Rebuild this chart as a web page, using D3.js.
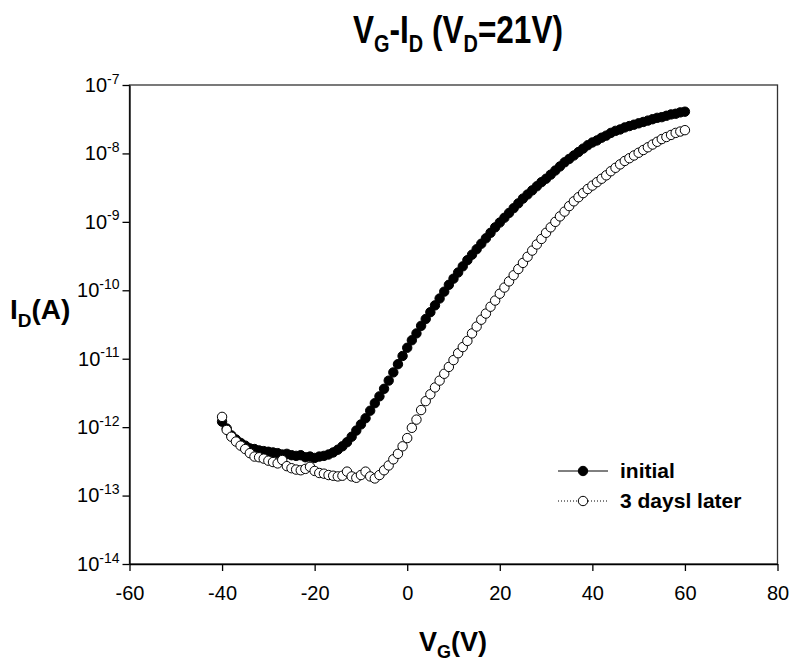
<!DOCTYPE html>
<html>
<head>
<meta charset="utf-8">
<script src="https://cdn.jsdelivr.net/npm/d3@7"></script>
<style>
  body { margin: 0; background: #fff; }
  text { font-family: "Liberation Sans", Arial, sans-serif; fill: #000; }
</style>
</head>
<body>
<div id="chart"></div>
<script>
// gate voltage sweep (V)
var vg = [
  -40,-39,-38,-37,-36,-35,-34,-33,-32,-31,
  -30,-29,-28,-27,-26,-25,-24,-23,-22,-21,
  -20,-19,-18,-17,-16,-15,-14,-13,-12,-11,
  -10,-9,-8,-7,-6,-5,-4,-3,-2,-1,
  0,1,2,3,4,5,6,7,8,9,
  10,11,12,13,14,15,16,17,18,19,
  20,21,22,23,24,25,26,27,28,29,
  30,31,32,33,34,35,36,37,38,39,
  40,41,42,43,44,45,46,47,48,49,
  50,51,52,53,54,55,56,57,58,59,
  60
];

// log10 of drain current (A)
var initialLog = [
  -11.92,-12.02,-12.12,-12.18,-12.23,-12.27,-12.31,-12.32,-12.34,-12.35,
  -12.36,-12.37,-12.38,-12.40,-12.39,-12.41,-12.42,-12.41,-12.44,-12.43,
  -12.45,-12.43,-12.42,-12.40,-12.37,-12.33,-12.28,-12.22,-12.14,-12.05,
  -11.96,-11.87,-11.76,-11.65,-11.55,-11.44,-11.32,-11.20,-11.08,-10.96,
  -10.84,-10.73,-10.63,-10.52,-10.42,-10.32,-10.22,-10.12,-10.02,-9.92,
  -9.83,-9.74,-9.65,-9.56,-9.48,-9.40,-9.32,-9.24,-9.16,-9.08,
  -9.01,-8.94,-8.87,-8.80,-8.73,-8.66,-8.60,-8.54,-8.48,-8.42,
  -8.37,-8.31,-8.25,-8.19,-8.13,-8.08,-8.03,-7.98,-7.93,-7.88,
  -7.84,-7.81,-7.77,-7.74,-7.70,-7.67,-7.65,-7.62,-7.60,-7.58,
  -7.56,-7.54,-7.52,-7.50,-7.48,-7.47,-7.45,-7.43,-7.42,-7.40,
  -7.39
];

var laterLog = [
  -11.85,-12.04,-12.14,-12.21,-12.27,-12.32,-12.38,-12.43,-12.44,-12.46,
  -12.49,-12.51,-12.53,-12.48,-12.57,-12.60,-12.62,-12.63,-12.61,-12.58,
  -12.64,-12.67,-12.68,-12.70,-12.71,-12.72,-12.71,-12.65,-12.72,-12.74,
  -12.70,-12.65,-12.72,-12.75,-12.70,-12.63,-12.56,-12.47,-12.39,-12.28,
  -12.16,-12.01,-11.89,-11.75,-11.62,-11.52,-11.42,-11.32,-11.22,-11.12,
  -11.02,-10.92,-10.83,-10.74,-10.63,-10.53,-10.43,-10.34,-10.24,-10.15,
  -10.05,-9.96,-9.87,-9.78,-9.69,-9.60,-9.51,-9.42,-9.33,-9.25,
  -9.16,-9.08,-9.00,-8.92,-8.85,-8.77,-8.70,-8.64,-8.58,-8.52,
  -8.47,-8.42,-8.37,-8.32,-8.26,-8.21,-8.16,-8.11,-8.07,-8.03,
  -7.99,-7.95,-7.91,-7.87,-7.83,-7.79,-7.76,-7.73,-7.70,-7.68,
  -7.66
];

var xTicks = [-60, -40, -20, 0, 20, 40, 60, 80];
var yExps = [-14, -13, -12, -11, -10, -9, -8, -7];
var seriesNames = ["initial", "3 daysl later"];

var width = 792, height = 668;
var plotLeft = 129.5, plotRight = 777.5, plotTop = 85, plotBottom = 564;
var markerR = 4.7;

var svg = d3.select("#chart")
  .append("svg")
  .attr("width", width)
  .attr("height", height);

var x = d3.scaleLinear().domain([-60, 80]).range([plotLeft, plotRight]);
var y = d3.scaleLog().domain([1e-14, 1e-7]).range([plotBottom, plotTop]);

// frame
svg.append("rect")
  .attr("x", plotLeft).attr("y", plotTop)
  .attr("width", plotRight - plotLeft).attr("height", plotBottom - plotTop)
  .attr("fill", "none").attr("stroke", "#333").attr("stroke-width", 1.3);

// x axis
var gx = svg.append("g")
  .attr("transform", "translate(0," + plotBottom + ")")
  .call(d3.axisBottom(x).tickValues(xTicks).tickSize(7).tickSizeOuter(0).tickPadding(15)
    .tickFormat(function (d) { return String(d); }));
gx.selectAll("text").attr("font-size", 20).attr("font-family", "Liberation Sans, Arial, sans-serif");

// y axis
var gy = svg.append("g")
  .attr("transform", "translate(" + plotLeft + ",0)")
  .call(d3.axisLeft(y).tickValues(yExps.map(function (e) { return Math.pow(10, e); }))
    .tickSize(7).tickSizeOuter(0).tickPadding(3));
gy.selectAll("text")
  .attr("font-size", 20)
  .attr("font-family", "Liberation Sans, Arial, sans-serif")
  .each(function (d, i) {
    var t = d3.select(this).text(null);
    t.append("tspan").text("10");
    t.append("tspan").attr("font-size", 14).attr("dy", "-0.6em").text(String(yExps[i]));
  });

svg.selectAll(".domain, .tick line").attr("stroke", "#000").attr("stroke-width", 1.3);

// series
var initialData = vg.map(function (v, i) { return { v: v, i: Math.pow(10, initialLog[i]) }; });
var laterData = vg.map(function (v, i) { return { v: v, i: Math.pow(10, laterLog[i]) }; });

var line = d3.line()
  .x(function (d) { return x(d.v); })
  .y(function (d) { return y(d.i); });

svg.append("path").datum(initialData)
  .attr("d", line).attr("fill", "none").attr("stroke", "#000").attr("stroke-width", 1);
svg.selectAll(".initial")
  .data(initialData)
  .enter().append("circle")
  .attr("class", "initial")
  .attr("cx", function (d) { return x(d.v); })
  .attr("cy", function (d) { return y(d.i); })
  .attr("r", markerR)
  .attr("fill", "#000").attr("stroke", "#000").attr("stroke-width", 1);

svg.append("path").datum(laterData)
  .attr("d", line).attr("fill", "none").attr("stroke", "#000")
  .attr("stroke-width", 1).attr("stroke-dasharray", "1,2");
svg.selectAll(".later")
  .data(laterData)
  .enter().append("circle")
  .attr("class", "later")
  .attr("cx", function (d) { return x(d.v); })
  .attr("cy", function (d) { return y(d.i); })
  .attr("r", markerR)
  .attr("fill", "#fff").attr("stroke", "#000").attr("stroke-width", 1);

// legend
var legend = svg.append("g").attr("transform", "translate(558,471)");
seriesNames.forEach(function (name, i) {
  var g = legend.append("g").attr("transform", "translate(0," + (i * 30) + ")");
  g.append("line").attr("x1", 0).attr("x2", 50).attr("y1", 0).attr("y2", 0)
    .attr("stroke", "#000").attr("stroke-width", 1)
    .attr("stroke-dasharray", i === 0 ? null : "1,2");
  g.append("circle").attr("cx", 25).attr("cy", 0).attr("r", markerR)
    .attr("fill", i === 0 ? "#000" : "#fff").attr("stroke", "#000");
  g.append("text").attr("x", 62).attr("y", 7)
    .attr("font-size", 21).attr("font-weight", "bold").text(name);
});

// title (condensed bold)
var title = svg.append("text")
  .attr("transform", "translate(458,43) scale(0.83,1)")
  .attr("text-anchor", "middle")
  .attr("font-size", 38).attr("font-weight", "bold");
title.append("tspan").text("V");
title.append("tspan").attr("font-size", 24).attr("dy", 9).text("G");
title.append("tspan").attr("dy", -9).text("-I");
title.append("tspan").attr("font-size", 24).attr("dy", 9).text("D");
title.append("tspan").attr("dy", -9).text(" (V");
title.append("tspan").attr("font-size", 24).attr("dy", 9).text("D");
title.append("tspan").attr("dy", -9).text("=21V)");

// x label
var xl = svg.append("text")
  .attr("x", 453).attr("y", 651)
  .attr("text-anchor", "middle")
  .attr("font-size", 27).attr("font-weight", "bold");
xl.append("tspan").text("V");
xl.append("tspan").attr("font-size", 18).attr("dy", 7).text("G");
xl.append("tspan").attr("dy", -7).text("(V)");

// y label
var yl = svg.append("text")
  .attr("x", 10).attr("y", 319)
  .attr("font-size", 28).attr("font-weight", "bold");
yl.append("tspan").text("I");
yl.append("tspan").attr("font-size", 19).attr("dy", 8).text("D");
yl.append("tspan").attr("dy", -8).text("(A)");
</script>
</body>
</html>
